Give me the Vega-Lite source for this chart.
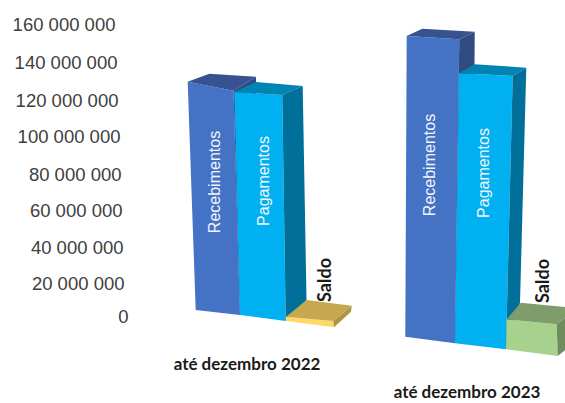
{"$schema":"https://vega.github.io/schema/vega-lite/v6.json","width":565,"height":403,"padding":0,"autosize":{"type":"none"},"background":"white","view":{"stroke":null},"config":{"font":"Liberation Sans"},
"data":{"values":[
{"periodo":"até dezembro 2022","serie":"Recebimentos","valor":130000000},
{"periodo":"até dezembro 2022","serie":"Pagamentos","valor":125000000},
{"periodo":"até dezembro 2022","serie":"Saldo","valor":5000000},
{"periodo":"até dezembro 2023","serie":"Recebimentos","valor":155000000},
{"periodo":"até dezembro 2023","serie":"Pagamentos","valor":140000000},
{"periodo":"até dezembro 2023","serie":"Saldo","valor":15000000}]},
"transform":[
{"calculate":"indexof(['até dezembro 2022','até dezembro 2023'],datum.periodo)*3+indexof(['Recebimentos','Pagamentos','Saldo'],datum.serie)","as":"b"}],
"layer":[
{"mark":{"type":"line","strokeWidth":0,"interpolate":"linear","clip":true},
"transform":[
{"calculate":"[0,1,5,4,0,1,2,3,1,2,6,5]","as":"vert"},
{"calculate":"[0,0,0,0,1,1,1,1,2,2,2,2]","as":"face"},
{"calculate":"[0,1,2,3,4,5,6,7,8,9,10,11]","as":"ord"},
{"flatten":["vert","face","ord"]},
{"calculate":"[[187.7,233.5,256,209.3,195.7,240,259],[234.3,282.3,302.7,256,240,285.7,306.5],[286,333.3,351.7,306.7,286,334,351],[406.7,459.3,474.7,422.3,405.3,455,473],[459,512.7,526.3,474.7,455,506,520],[506.7,556.7,578,520.7,506,557.7,578]][datum.b][datum.vert]","as":"px"},
{"calculate":"[[0,9,-5,-8],[0,3,-6,-10],[0,4.3,-11,-16.7],[0,3.3,-4.3,-7.3],[0,2.7,-5.6,-9],[0,5,-11,-16.6]][datum.b]","as":"topo"},
{"calculate":"[[310,315,300],[315,321,300],[321,327.3,311.7],[336.7,343.3,320],[343.3,349.3,302.7],[349.3,356,340]][datum.b]","as":"base"},
{"calculate":"[1.756,1.784,0.86,1.94,1.929,2][datum.b]","as":"k"},
{"calculate":"datum.vert>=4?datum.base[datum.vert-4]:datum.base[0]-datum.valor/1000000*datum.k+datum.topo[datum.vert]","as":"py"},
{"calculate":"(316-datum.py)/36.5*20000000","as":"yv"},
{"calculate":"(datum.b==2?2:datum.b==5?3:datum.b%3)*3+datum.face","as":"tom"},
{"calculate":"datum.b*3+datum.face","as":"faceid"}],
"encoding":{
"x":{"field":"px","type":"quantitative","scale":{"domain":[0,565],"nice":false,"zero":false},"axis":null},
"y":{"field":"yv","type":"quantitative","scale":{"domain":[-47671233,173150685],"nice":false,"zero":false},
"axis":{"title":null,"domain":false,"ticks":false,"grid":false,"offset":-128,"values":[0,20000000,40000000,60000000,80000000,100000000,120000000,140000000,160000000],"labelExpr":"replace(format(datum.value,','),/,/g,' ')","labelFont":"Liberation Sans","labelFontSize":18.5,"labelColor":"#404040","labelBaseline":"middle",
"labelPadding":{"condition":[{"test":"datum.value==160000000","value":13},{"test":"datum.value==140000000","value":11},{"test":"datum.value==120000000","value":10},{"test":"datum.value==100000000","value":8},{"test":"datum.value==80000000","value":7},{"test":"datum.value==60000000","value":6},{"test":"datum.value==40000000","value":5},{"test":"datum.value==20000000","value":4}],"value":0},
"labelOffset":{"condition":[{"test":"datum.value==140000000","value":1.5},{"test":"datum.value==120000000","value":3},{"test":"datum.value==100000000","value":3},{"test":"datum.value==80000000","value":4},{"test":"datum.value==60000000","value":4},{"test":"datum.value==40000000","value":4},{"test":"datum.value==20000000","value":3.5}],"value":0}}},
"fill":{"field":"tom","type":"nominal","legend":null,"scale":{"domain":[0,1,2,3,4,5,6,7,8,9,10,11],"range":["#4472C4","#375291","#2F4B82","#00B0F0","#0084B4","#006F9A","#FFD966","#C5A84F","#B09544","#A9D18E","#7F9D6B","#6F8C5F"]}},
"detail":{"field":"faceid","type":"nominal"},
"order":{"field":"ord","type":"quantitative"}}},
{"transform":[{"filter":"datum.serie!='Saldo'"},{"calculate":"[215,264,0,430,484][datum.b]","as":"tx"},{"calculate":"(316-[182,181,0,165,173][datum.b])/36.5*20000000","as":"ty"}],
"mark":{"type":"text","angle":270,"font":"Liberation Sans","fontSize":16,"color":"#f2f6fc","align":"center","baseline":"middle"},
"encoding":{"x":{"field":"tx","type":"quantitative"},"y":{"field":"ty","type":"quantitative"},"text":{"field":"serie"}}},
{"transform":[{"filter":"datum.serie=='Saldo'"},{"calculate":"datum.b==2?326:544","as":"tx"},{"calculate":"(316-(datum.b==2?280:281))/36.5*20000000","as":"ty"}],
"mark":{"type":"text","angle":270,"font":"Lato","fontWeight":"bold","fontSize":18,"color":"#1a1a1a","align":"center","baseline":"middle"},
"encoding":{"x":{"field":"tx","type":"quantitative"},"y":{"field":"ty","type":"quantitative"},"text":{"field":"serie"}}},
{"transform":[{"filter":"datum.serie=='Saldo'"},{"calculate":"datum.b==2?247:467","as":"tx"},{"calculate":"(316-(datum.b==2?365:393))/36.5*20000000","as":"ty"}],
"mark":{"type":"text","font":"Lato","fontWeight":"bold","fontSize":17,"color":"#1a1a1a","align":"center","baseline":"middle"},
"encoding":{"x":{"field":"tx","type":"quantitative"},"y":{"field":"ty","type":"quantitative"},"text":{"field":"periodo"}}}
]}
